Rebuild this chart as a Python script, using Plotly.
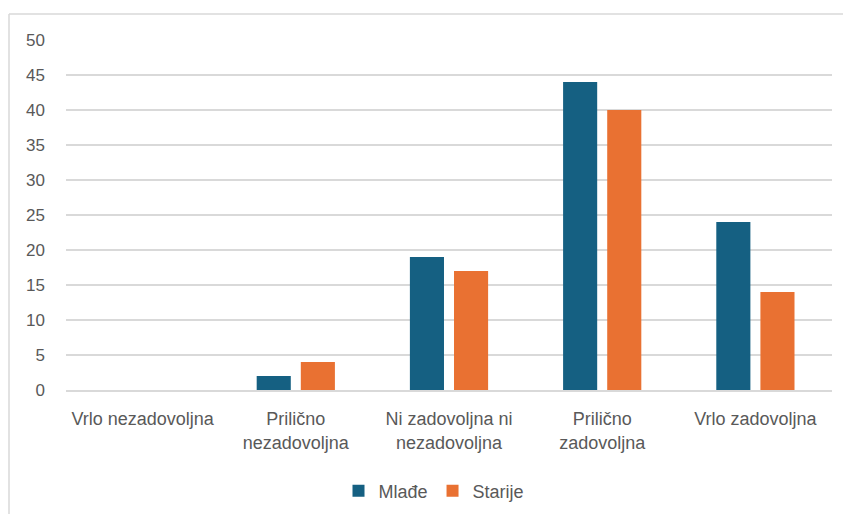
import plotly.graph_objects as go

categories = ["Vrlo nezadovoljna", "Prilično<br>nezadovoljna", "Ni zadovoljna ni<br>nezadovoljna",
              "Prilično<br>zadovoljna", "Vrlo zadovoljna"]
mlade = [0, 2, 19, 44, 24]
starije = [0, 4, 17, 40, 14]
y_ticks = [0, 5, 10, 15, 20, 25, 30, 35, 40, 45, 50]

FONT = "Liberation Sans, Arial, sans-serif"
W, H = 843, 514
L, T = 66, 40
pw, ph = 766, 350
R, B = W - L - pw, H - T - ph

fig = go.Figure()
fig.add_trace(go.Bar(name="Mlađe", x=categories, y=mlade, marker=dict(color="#156082", line=dict(width=0))))
fig.add_trace(go.Bar(name="Starije", x=categories, y=starije, marker=dict(color="#E97132", line=dict(width=0))))

bx0 = (9 - L) / pw
by1 = 1 + (T - 14) / ph
fig.update_layout(
    width=W, height=H,
    margin=dict(l=L, r=R, t=T, b=B),
    paper_bgcolor="white", plot_bgcolor="white",
    barmode="group", bargap=0.424, bargroupgap=0.227,
    font=dict(family=FONT, size=18, color="#595959"),
    showlegend=True,
    legend=dict(orientation="h", xref="container", yref="container",
                x=434 / W, xanchor="center", y=1 - 491 / H, yanchor="middle",
                font=dict(family=FONT, size=18, color="#595959"), traceorder="normal"),
    xaxis=dict(showgrid=False, showline=True, linecolor="#d9d9d9", linewidth=1.5,
               ticks="", ticklabelstandoff=12, tickfont=dict(family=FONT, size=18, color="#595959")),
    yaxis=dict(range=[0, 50], tickvals=y_ticks, showgrid=True, gridcolor="#d9d9d9", gridwidth=1.5,
               zeroline=False, showline=False, ticks="", ticklabelstandoff=20,
               tickfont=dict(family=FONT, size=17, color="#595959")),
    shapes=[
        dict(type="line", xref="paper", yref="paper", x0=bx0, x1=1.2, y0=by1, y1=by1,
             line=dict(color="#d9d9d9", width=1.5), layer="below"),
        dict(type="line", xref="paper", yref="paper", x0=bx0, x1=bx0, y0=by1, y1=-0.5,
             line=dict(color="#d9d9d9", width=1.5), layer="below"),
    ],
)

fig.write_html("out.html", config={"displayModeBar": False},
               post_script="document.body.style.margin='0';document.body.style.overflow='hidden';")
